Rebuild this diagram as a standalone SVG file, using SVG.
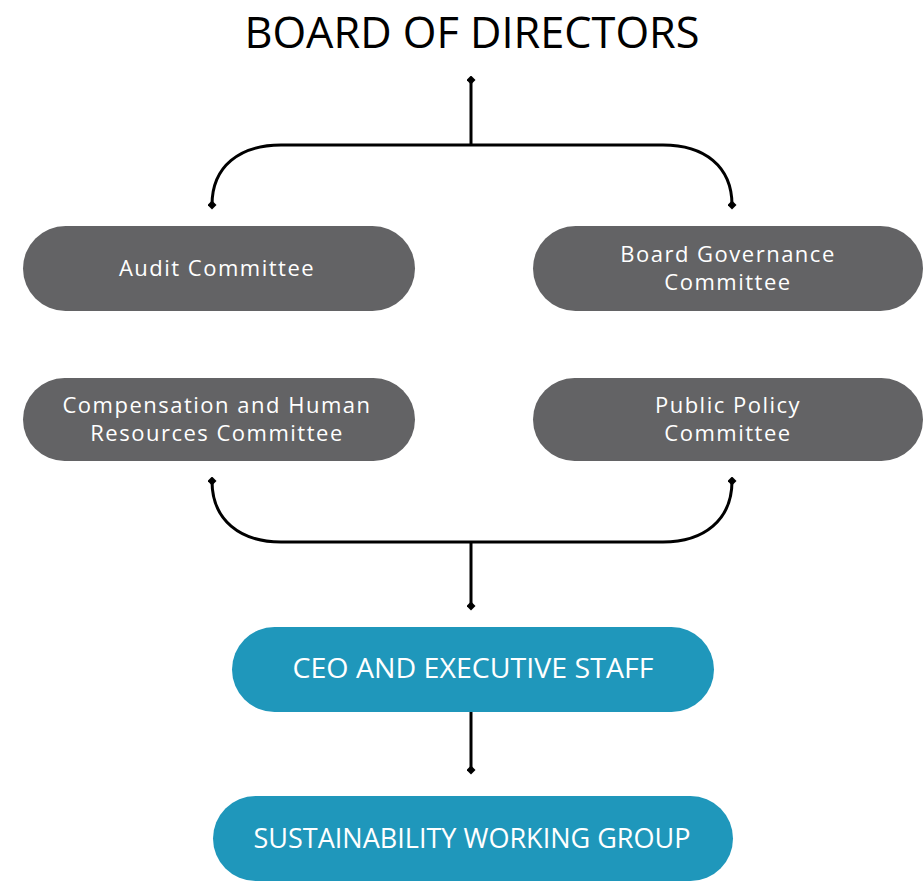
<svg xmlns="http://www.w3.org/2000/svg" width="923" height="888" viewBox="0 0 923 888">
<style>
.gray{fill:#636365}
.blue{fill:#1f97bb}
.lbl{font-family:"Open Sans","Noto Sans","Liberation Sans",sans-serif;fill:#ffffff;text-anchor:middle}
.sm{font-size:22px;letter-spacing:1.5px}
.lg{font-size:28px}
.title{font-family:"Open Sans","Noto Sans","Liberation Sans",sans-serif;font-size:43px;fill:#000;text-anchor:middle}
.conn{fill:none;stroke:#000;stroke-width:3}
</style>
<defs>
<marker id="dia" viewBox="-5 -5 10 10" markerWidth="9" markerHeight="9" markerUnits="userSpaceOnUse" refX="0" refY="0" orient="auto">
<path d="M0,-5 L5,0 L0,5 L-5,0 Z" fill="#000"/>
</marker>
</defs>
<g id="title">
<text class="title" x="472" y="48" textLength="455" lengthAdjust="spacingAndGlyphs">BOARD OF DIRECTORS</text>
</g>
<g id="connectors">
<path class="conn" d="M471,144 L471,80" marker-end="url(#dia)"/>
<path class="conn" d="M212,205 C212,166 240,145 281,145 L663,145 C704,145 732,166 732,205" marker-start="url(#dia)" marker-end="url(#dia)"/>
<path class="conn" d="M212,481 C212,520 240,542 281,542 L663,542 C704,542 732,520 732,481" marker-start="url(#dia)" marker-end="url(#dia)"/>
<path class="conn" d="M471,542 L471,606" marker-end="url(#dia)"/>
<path class="conn" d="M471,712 L471,770" marker-end="url(#dia)"/>
</g>
<g id="audit">
<rect class="gray" x="23" y="226" width="392" height="85" rx="42.5"/>
<text class="lbl sm" x="217" y="276">Audit Committee</text>
</g>
<g id="governance">
<rect class="gray" x="533" y="226" width="390" height="85" rx="42.5"/>
<text class="lbl sm" x="728" y="262">Board Governance</text>
<text class="lbl sm" x="728" y="290">Committee</text>
</g>
<g id="compensation">
<rect class="gray" x="23" y="378" width="392" height="83" rx="41.5"/>
<text class="lbl sm" x="217" y="413">Compensation and Human</text>
<text class="lbl sm" x="217" y="441">Resources Committee</text>
</g>
<g id="publicpolicy">
<rect class="gray" x="533" y="378" width="390" height="83" rx="41.5"/>
<text class="lbl sm" x="728" y="413">Public Policy</text>
<text class="lbl sm" x="728" y="441">Committee</text>
</g>
<g id="ceo">
<rect class="blue" x="232" y="627" width="482" height="85" rx="42.5"/>
<text class="lbl lg" x="473" y="678" textLength="361" lengthAdjust="spacingAndGlyphs">CEO AND EXECUTIVE STAFF</text>
</g>
<g id="sustainability">
<rect class="blue" x="213" y="796" width="520" height="85" rx="42.5"/>
<text class="lbl lg" x="472" y="848" textLength="437" lengthAdjust="spacingAndGlyphs">SUSTAINABILITY WORKING GROUP</text>
</g>
</svg>
